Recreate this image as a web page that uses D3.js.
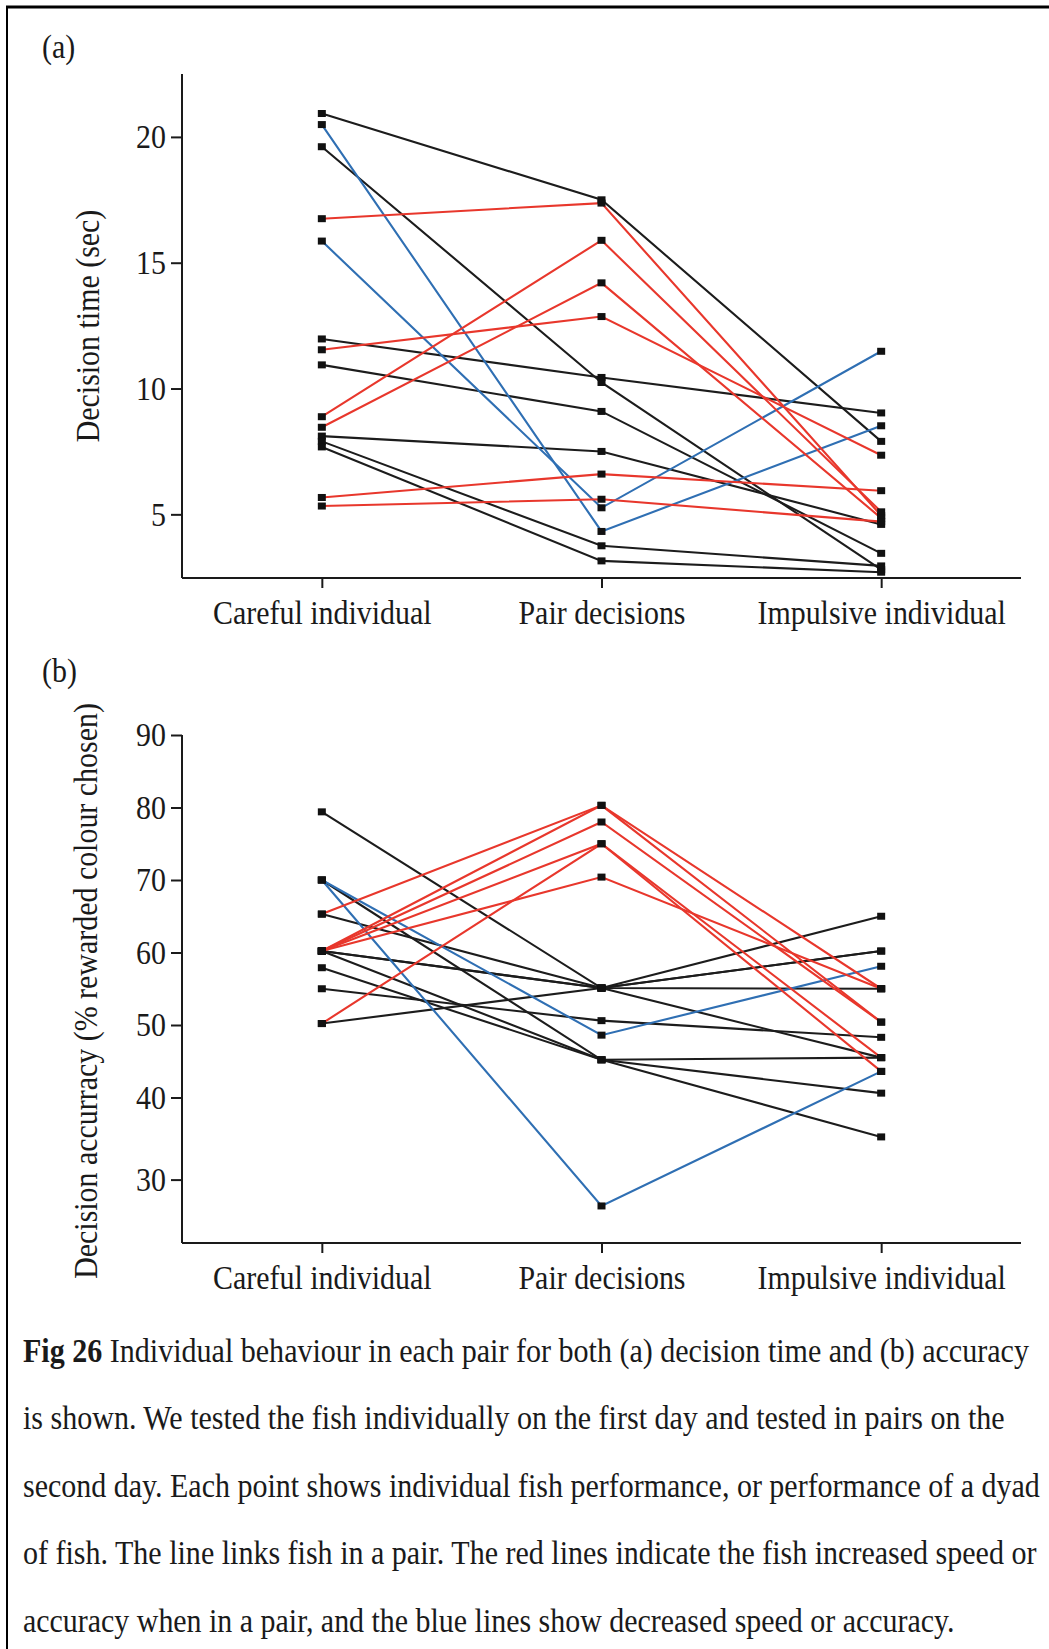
<!DOCTYPE html>
<html>
<head>
<meta charset="utf-8">
<script src="https://cdn.jsdelivr.net/npm/d3@7"></script>
<style>
  html, body { margin: 0; padding: 0; background: #fff; }
  svg { display: block; }
  text { font-family: "Liberation Serif", "Times New Roman", Times, "DejaVu Serif", serif; fill: #1a1a1a; }
</style>
</head>
<body>
<svg id="fig" width="1049" height="1649"></svg>
<script>
// Conditions along the x axis
const categories = ["Careful individual", "Pair decisions", "Impulsive individual"];

// (a) Decision time (sec), one entry per pair of fish
const timeCareful   = [20.93, 20.49, 19.61, 16.75, 15.86, 11.97, 11.54, 10.94, 8.88, 8.46, 8.11, 7.90, 7.68, 5.67, 5.33];
const timePair      = [17.50,  4.32, 10.24, 17.37,  5.26, 10.44, 12.86,  9.09, 15.89, 14.20, 7.50, 3.75, 3.15, 6.60, 5.60];
const timeImpulsive = [ 7.90,  8.52,  2.80,  4.95, 11.48,  9.03,  7.35,  3.45, 5.10, 4.85, 4.60, 2.95, 2.70, 5.94, 4.71];
const timeChange    = ["same", "worse", "same", "better", "worse", "same", "better", "same", "better", "better", "same", "same", "same", "better", "better"];
const timeTicks = [5, 10, 15, 20];

// (b) Decision accuracy (% rewarded colour chosen)
const accCareful   = [65.3, 60.2, 60.2, 60.2, 50.2, 60.2, 70.0, 70.0, 79.4, 70.0, 65.3, 60.2, 60.2, 57.9, 55.0, 50.2, 60.2];
const accPair      = [80.3, 80.3, 78.0, 75.0, 75.0, 70.4, 48.6, 26.8, 55.1, 45.2, 55.1, 55.1, 45.2, 45.2, 50.6, 55.1, 55.1];
const accImpulsive = [55.0, 50.4, 50.4, 45.5, 43.6, 55.0, 58.1, 43.6, 45.5, 40.6, 60.2, 55.0, 35.2, 45.5, 48.3, 65.0, 60.2];
const accChange    = ["better", "better", "better", "better", "better", "better", "worse", "worse",
                      "same", "same", "same", "same", "same", "same", "same", "same", "same"];
const accTicks = [30, 40, 50, 60, 70, 80, 90];

const serif = "'Liberation Serif', 'Times New Roman', Times, 'DejaVu Serif', serif";
const FONT = 34;        // tall type, squeezed sideways below
const SQUEEZE = 0.88;

// narrow each text element to a fraction of its natural width
function condense(sel, factor = SQUEEZE) {
  sel.each(function () {
    const w = this.getComputedTextLength();
    d3.select(this).attr("textLength", w * factor).attr("lengthAdjust", "spacingAndGlyphs");
  });
}

const lineColour = d3.scaleOrdinal()
  .domain(["same", "better", "worse"])
  .range(["#1c1c1c", "#e8372c", "#2f6fb3"]);

const svg = d3.select("#fig");

// Frame around the figure
svg.append("line").attr("x1", 6).attr("x2", 1049).attr("y1", 7).attr("y2", 7)
  .attr("stroke", "#000").attr("stroke-width", 3);
svg.append("line").attr("x1", 7).attr("x2", 7).attr("y1", 6).attr("y2", 1649)
  .attr("stroke", "#000").attr("stroke-width", 2);

const x = d3.scalePoint().domain(categories).range([182, 1021]).padding(0.5);

function panel(opts) {
  const g = svg.append("g");
  const y = opts.y;
  const [yBottom, yTop] = [d3.max(y.range()), d3.min(y.range())];

  // one polyline per pair of fish
  const rows = opts.careful.map((c, i) => ({
    values: [c, opts.pair[i], opts.impulsive[i]],
    change: opts.change[i]
  }));
  const order = ["same", "worse", "better"];
  rows.sort((a, b) => order.indexOf(a.change) - order.indexOf(b.change));

  const line = d3.line()
    .x((d, i) => x(categories[i]))
    .y(d => y(d));

  g.append("g").selectAll("path").data(rows).join("path")
    .attr("d", d => line(d.values))
    .attr("fill", "none")
    .attr("stroke", d => lineColour(d.change))
    .attr("stroke-width", 2.1)
    .attr("stroke-linejoin", "miter");

  const pts = rows.flatMap(r => r.values.map((v, i) => ({ cat: categories[i], v })));
  g.append("g").selectAll("rect").data(pts).join("rect")
    .attr("x", d => x(d.cat) - 4)
    .attr("y", d => y(d.v) - 3.5)
    .attr("width", 8).attr("height", 7)
    .attr("fill", "#111");

  // axes
  const yAxis = g.append("g").attr("transform", "translate(182,0)")
    .call(d3.axisLeft(y).tickValues(opts.ticks).tickSize(11).tickSizeOuter(0).tickPadding(5));
  const xAxis = g.append("g").attr("transform", `translate(0,${yBottom})`)
    .call(d3.axisBottom(x).tickSize(10).tickSizeOuter(0).tickPadding(12));
  [yAxis, xAxis].forEach(ax => {
    ax.attr("font-family", serif);
    ax.select(".domain").attr("stroke", "#1a1a1a").attr("stroke-width", 2);
    ax.selectAll(".tick line").attr("stroke", "#1a1a1a").attr("stroke-width", 2);
    ax.selectAll(".tick text").attr("font-size", FONT)
      .style("font-family", serif).attr("fill", "#1a1a1a")
      .call(condense);
  });
  xAxis.select(".domain").attr("d", `M182,0H1021`);
  yAxis.select(".domain").attr("d", `M0,${yTop}V${yBottom}`);
  xAxis.selectAll(".tick text").attr("dy", "0.71em");

  g.append("text")
    .attr("transform", `translate(${opts.titleX},${opts.titleY}) rotate(-90)`)
    .attr("text-anchor", "middle")
    .attr("font-size", FONT)
    .style("font-family", serif)
    .text(opts.title)
    .call(condense);

  g.append("text")
    .attr("x", 42).attr("y", opts.tagY)
    .attr("font-size", FONT)
    .style("font-family", serif)
    .text(opts.tag)
    .call(condense);
}

panel({
  careful: timeCareful, pair: timePair, impulsive: timeImpulsive, change: timeChange,
  y: d3.scaleLinear().domain([2.47, 22.5]).range([578, 74]),
  ticks: timeTicks,
  title: "Decision time (sec)", titleX: 99, titleY: 326,
  tag: "(a)", tagY: 58
});

panel({
  careful: accCareful, pair: accPair, impulsive: accImpulsive, change: accChange,
  y: d3.scaleLinear().domain([22.3, 30, 40, 90]).range([1243, 1179.6, 1097.5, 735]),
  ticks: accTicks,
  title: "Decision accurracy (% rewarded colour chosen)", titleX: 97, titleY: 991,
  tag: "(b)", tagY: 682
});

// Figure caption: each line is set in tall type and narrowed to its column width
const caption = [
  { bold: "Fig 26", text: " Individual behaviour in each pair for both (a) decision time and (b) accuracy", width: 1006 },
  { bold: "", text: "is shown. We tested the fish individually on the first day and tested in pairs on the", width: 982 },
  { bold: "", text: "second day. Each point shows individual fish performance, or performance of a dyad", width: 1017 },
  { bold: "", text: "of fish. The line links fish in a pair. The red lines indicate the fish increased speed or", width: 1014 },
  { bold: "", text: "accuracy when in a pair, and the blue lines show decreased speed or accuracy.", width: 932 }
];
const capBase = [1362, 1429, 1497, 1564, 1632];
const cap = svg.append("g");
caption.forEach((c, i) => {
  const row = cap.append("g");
  const t = row.append("text")
    .attr("x", 0).attr("y", 0)
    .attr("font-size", FONT)
    .style("font-family", serif);
  if (c.bold) t.append("tspan").attr("font-weight", "bold").text(c.bold);
  t.append("tspan").text(c.text);
  const natural = t.node().getComputedTextLength();
  row.attr("transform", `translate(23,${capBase[i]}) scale(${c.width / natural},1)`);
});
</script>
</body>
</html>
